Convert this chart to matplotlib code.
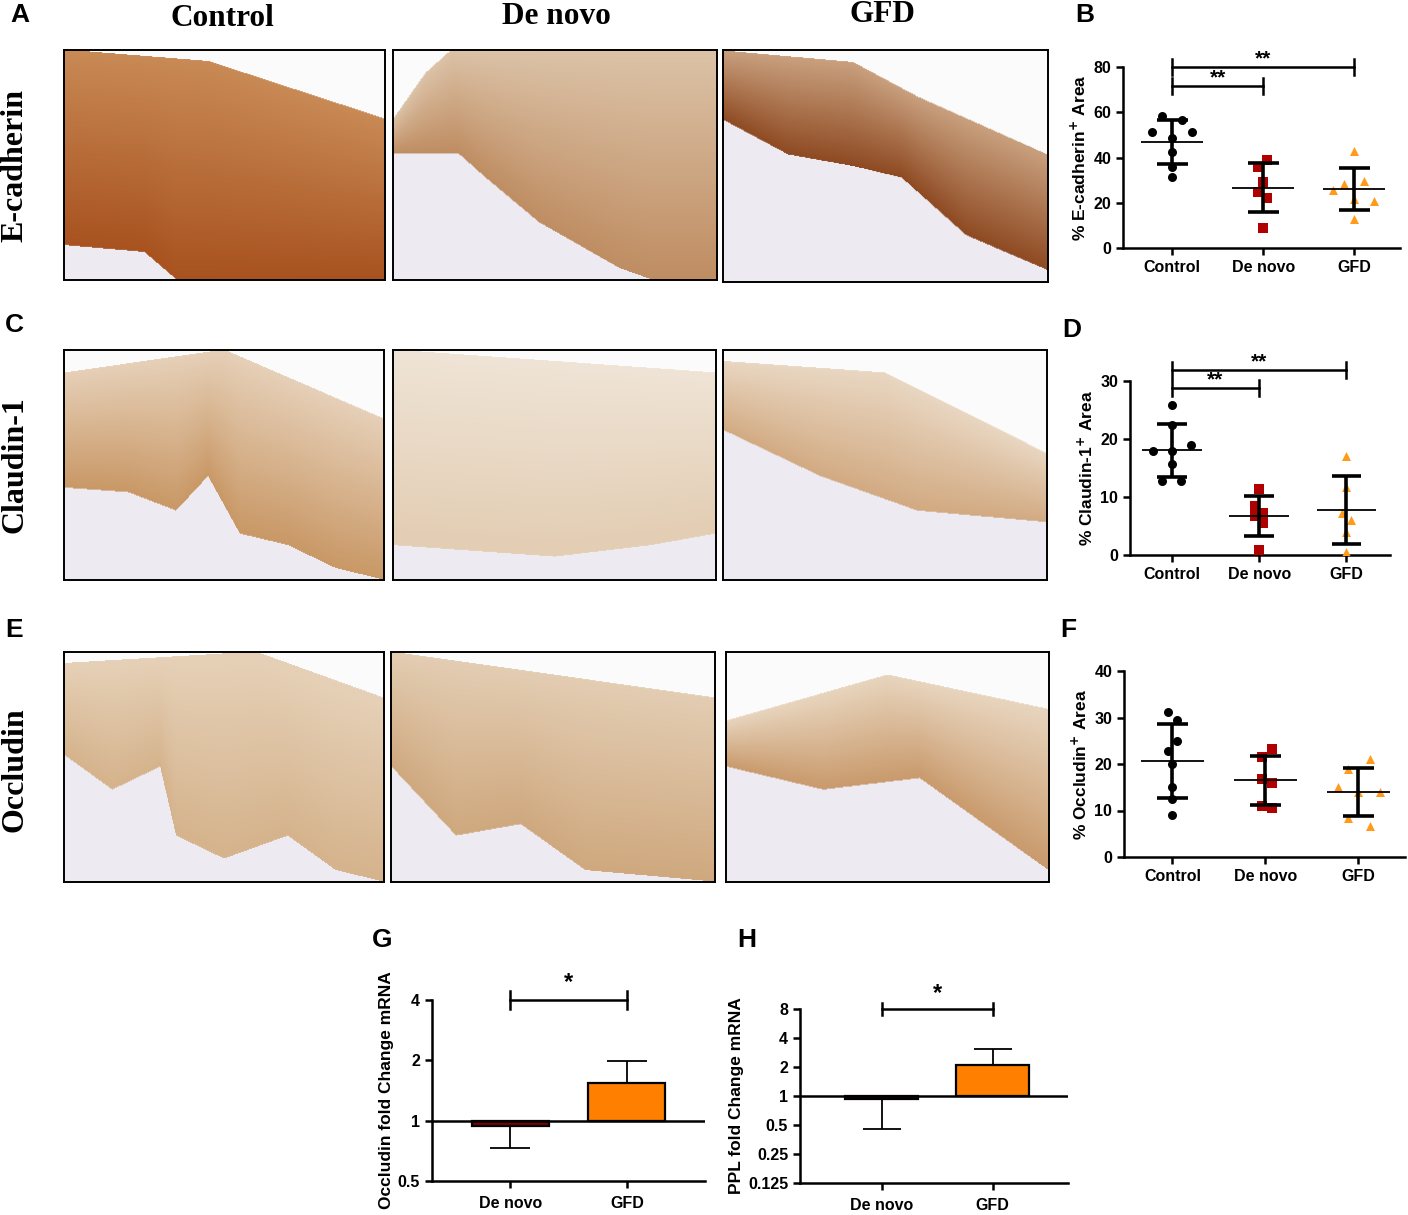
import numpy as np
from matplotlib import pyplot as plt
from matplotlib.ticker import FixedLocator, NullLocator

# group names
groups = ['Control', 'De novo', 'GFD']
group_colors = ['black', '#b00000', '#ff9a1a']
group_markers = ['o', 's', '^']

# panel B: % E-cadherin+ area
ecad_control = [58.2, 56.6, 51.1, 51.1, 48.6, 42.4, 35.9, 31.2]
ecad_denovo = [39.0, 35.9, 29.3, 24.6, 22.0, 8.7]
ecad_gfd = [42.7, 28.4, 29.8, 25.5, 21.8, 20.9, 12.7]

# panel D: % Claudin-1+ area
cldn_control = [25.9, 22.5, 18.0, 19.0, 18.0, 15.7, 12.7, 12.7]
cldn_denovo = [11.4, 8.5, 7.3, 6.8, 5.6, 0.9]
cldn_gfd = [17.1, 11.8, 7.2, 6.0, 4.0, 0.6]

# panel F: % Occludin+ area
ocln_control = [31.1, 29.4, 24.9, 22.7, 20.1, 15.1, 12.5, 9.1]
ocln_denovo = [23.3, 21.4, 16.7, 15.9, 10.9, 10.6]
ocln_gfd = [21.0, 19.0, 15.1, 14.0, 14.0, 8.4, 6.7]

# panels G, H: mRNA fold change (mean, error end)
mrna_groups = ['De novo', 'GFD']
ocln_fold = [0.944, 1.55]
ocln_fold_err = [0.727, 1.99]
ppl_fold = [0.923, 2.11]
ppl_fold_err = [0.45, 3.05]

FIG_W, FIG_H = 1408, 1215


def px_axes(fig, x0, y0, x1, y1):
    '''Add axes from pixel box (top-left origin).'''
    return fig.add_axes([x0 / FIG_W, 1 - y1 / FIG_H,
                         (x1 - x0) / FIG_W, (y1 - y0) / FIG_H])


def tissue_image(upper, lower, surface, basal, nx=320, ny=230):
    '''Rough stand-in for a stained section.'''
    xs = np.linspace(0, 1, nx)
    ys = np.linspace(0, 1, ny)[:, None]
    up = np.interp(xs, [p[0] for p in upper], [p[1] for p in upper])[None, :]
    lo = np.interp(xs, [p[0] for p in lower], [p[1] for p in lower])[None, :]
    img = np.ones((ny, nx, 3)) * 0.985
    stroma = np.array([0.93, 0.92, 0.95])
    below = (ys > lo)
    img[np.broadcast_to(below, (ny, nx))] = stroma
    t = np.clip((ys - up) / np.maximum(lo - up, 1e-3), 0, 1)
    inside = (ys >= up) & (ys <= lo)
    s = np.array(surface)
    b = np.array(basal)
    col = s[None, None, :] * (1 - t[..., None]) + b[None, None, :] * t[..., None]
    mask = np.broadcast_to(inside, (ny, nx))
    img[mask] = col[mask]
    return img


def hex2rgb(h):
    h = h.lstrip('#')
    return [int(h[i:i + 2], 16) / 255 for i in (0, 2, 4)]


def draw_section(ax, upper, lower, surface, basal):
    ax.imshow(tissue_image(upper, lower, hex2rgb(surface), hex2rgb(basal)),
              aspect='auto', extent=[0, 1, 1, 0], interpolation='bilinear')
    ax.set_xticks([])
    ax.set_yticks([])
    for s in ax.spines.values():
        s.set_linewidth(1.4)


def style_axes(ax):
    for side in ['top', 'right']:
        ax.spines[side].set_visible(False)
    for side in ['left', 'bottom']:
        ax.spines[side].set_linewidth(1.8)
    ax.tick_params(width=1.8, length=5, labelsize=11.5)
    for lab in ax.get_yticklabels():
        lab.set_fontweight('bold')


def bracket(ax, x0, x1, y, h, label):
    ax.plot([x0, x1], [y, y], color='black', lw=1.8, clip_on=False)
    ax.plot([x0, x0], [y - h, y + h], color='black', lw=1.8, clip_on=False)
    ax.plot([x1, x1], [y - h, y + h], color='black', lw=1.8, clip_on=False)
    ax.text((x0 + x1) / 2, y + h * 0.35, label, ha='center', va='baseline',
            fontsize=15, fontweight='bold', clip_on=False)


def scatter_panel(ax, data, offsets, ymax, step, ylabel, xlim):
    for i, (vals, offs) in enumerate(zip(data, offsets)):
        vals = np.array(vals)
        ax.scatter(i + np.array(offs), vals, s=42, marker=group_markers[i],
                   color=group_colors[i], zorder=3, linewidths=0)
        m = vals.mean()
        sd = vals.std(ddof=1)
        ax.hlines(m, i - 0.34, i + 0.34, color='black', lw=1.3, zorder=4)
        ax.vlines(i, m - sd, m + sd, color='black', lw=2.6, zorder=4)
        ax.hlines([m - sd, m + sd], i - 0.17, i + 0.17, color='black', lw=2.6, zorder=4)
    ax.set_xlim(*xlim)
    ax.set_ylim(0, ymax)
    ax.set_yticks(np.arange(0, ymax + 1, step))
    ax.set_xticks(range(3))
    ax.set_xticklabels(groups, fontsize=12.5, fontweight='bold')
    ax.set_ylabel(ylabel, fontsize=12.5, fontweight='bold', labelpad=3)
    style_axes(ax)


def bar_panel(ax, means, errs, colors, ylim, ticks, ticklabels, ylabel, xlim):
    ax.set_yscale('log', base=2)
    x = np.arange(len(means))
    heights = [m - 1 for m in means]
    ax.bar(x, heights, bottom=1, width=0.66, color=colors,
           edgecolor='black', linewidth=1.6, zorder=3)
    for xi, m, e in zip(x, means, errs):
        ax.vlines(xi, min(m, e), max(m, e), color='black', lw=1.3, zorder=2)
        ax.hlines(e, xi - 0.17, xi + 0.17, color='black', lw=1.3, zorder=2)
    ax.axhline(1, color='black', lw=1.8, zorder=4)
    ax.set_xlim(*xlim)
    ax.set_ylim(*ylim)
    ax.yaxis.set_major_locator(FixedLocator(ticks))
    ax.yaxis.set_minor_locator(NullLocator())
    ax.set_yticklabels(ticklabels)
    ax.set_xticks(x)
    ax.set_xticklabels(mrna_groups, fontsize=12, fontweight='bold')
    ax.set_ylabel(ylabel, fontsize=12.5, fontweight='bold', labelpad=3)
    style_axes(ax)
    ax.tick_params(axis='x', pad=6)


def main():
    fig = plt.figure(figsize=(FIG_W / 100, FIG_H / 100), dpi=100)
    plt.rcParams['font.family'] = ['Liberation Sans', 'DejaVu Sans']

    serif = ['Liberation Serif', 'DejaVu Serif']

    # column titles and row labels
    for x, y, t in [(222, 18, 'Control'), (556, 16, 'De novo'), (882, 15, 'GFD')]:
        fig.text(x / FIG_W, 1 - y / FIG_H, t, ha='center', va='center',
                 fontsize=22.5, fontweight='bold', family=serif)
    for y, t in [(165, 'E-cadherin'), (465, 'Claudin-1'), (770, 'Occludin')]:
        fig.text(15 / FIG_W, 1 - y / FIG_H, t, ha='center', va='center', rotation=90,
                 fontsize=23, fontweight='bold', family=serif)

    # stained sections
    sections = [
        [(64, 50, 385, 280), [(0, 0.0), (0.45, 0.05), (1, 0.3)],
         [(0, 0.85), (0.25, 0.88), (0.35, 1.0), (1, 1.0)], '#c98a55', '#a8521f'],
        [(393, 50, 717, 280), [(0, 0.3), (0.1, 0.1), (0.18, 0.0), (1, 0.0)],
         [(0, 0.45), (0.2, 0.45), (0.28, 0.55), (0.45, 0.75), (0.7, 0.95), (0.8, 1.0), (1, 1.0)],
         '#dcc3a8', '#bf8d62'],
        [(723, 50, 1048, 282), [(0, 0.0), (0.4, 0.05), (0.6, 0.2), (1, 0.45)],
         [(0, 0.3), (0.2, 0.45), (0.4, 0.5), (0.55, 0.55), (0.75, 0.8), (1, 0.95)],
         '#c9a07e', '#8e4a22'],
        [(64, 350, 384, 580), [(0, 0.1), (0.5, 0.0), (1, 0.3)],
         [(0, 0.6), (0.2, 0.62), (0.35, 0.7), (0.45, 0.55), (0.55, 0.8), (0.7, 0.85), (0.85, 0.95), (1, 1)],
         '#e6d0b8', '#c99866'],
        [(393, 350, 716, 580), [(0, 0.0), (1, 0.1)],
         [(0, 0.85), (0.5, 0.9), (0.8, 0.85), (1, 0.8)], '#efe4d6', '#e3cdb3'],
        [(723, 350, 1047, 580), [(0, 0.05), (0.5, 0.1), (1, 0.45)],
         [(0, 0.35), (0.3, 0.55), (0.6, 0.7), (1, 0.75)], '#e9d7c2', '#d2aa82'],
        [(64, 652, 384, 882), [(0, 0.05), (0.6, 0.0), (1, 0.2)],
         [(0, 0.45), (0.15, 0.6), (0.3, 0.5), (0.35, 0.8), (0.5, 0.9), (0.7, 0.8), (0.85, 0.95), (1, 1)],
         '#e6d1b8', '#d5b38c'],
        [(391, 652, 715, 882), [(0, 0.0), (1, 0.2)],
         [(0, 0.5), (0.2, 0.8), (0.4, 0.75), (0.6, 0.95), (1, 1)], '#e3cdb3', '#cfa87e'],
        [(726, 652, 1049, 882), [(0, 0.3), (0.5, 0.1), (1, 0.25)],
         [(0, 0.5), (0.3, 0.6), (0.6, 0.55), (1, 0.95)], '#e8d5be', '#c99a6c'],
    ]
    for box, up, lo, c1, c2 in sections:
        draw_section(px_axes(fig, *box), up, lo, c1, c2)

    # B
    axB = px_axes(fig, 1123, 67, 1400, 248)
    scatter_panel(axB, [ecad_control, ecad_denovo, ecad_gfd],
                  [[-0.11, 0.11, -0.22, 0.22, 0, 0, 0, 0],
                   [0.04, -0.055, 0, -0.055, 0.04, 0],
                   [0, -0.11, 0.11, -0.23, 0, 0.22, 0]],
                  80, 20, r'% E-cadherin$^\mathbf{+}$ Area', (-0.54, 2.5))
    bracket(axB, 0, 2, 80, 3.6, '**')
    bracket(axB, 0, 1, 71.5, 3.6, '**')

    # D
    axD = px_axes(fig, 1130, 381, 1390, 555)
    scatter_panel(axD, [cldn_control, cldn_denovo, cldn_gfd],
                  [[0, 0, -0.22, 0.22, 0, 0, -0.11, 0.11],
                   [0, -0.046, 0.05, -0.046, 0.05, 0],
                   [0, 0, -0.05, 0.05, 0, 0]],
                  30, 10, r'% Claudin-1$^\mathbf{+}$ Area', (-0.48, 2.5))
    bracket(axD, 0, 2, 31.9, 1.3, '**')
    bracket(axD, 0, 1, 28.8, 1.3, '**')

    # F
    axF = px_axes(fig, 1124, 671, 1405, 857)
    scatter_panel(axF, [ocln_control, ocln_denovo, ocln_gfd],
                  [[-0.05, 0.05, 0.05, -0.05, 0, 0, 0, 0],
                   [0.07, -0.035, -0.035, 0.07, -0.035, 0.07],
                   [0.12, -0.11, -0.22, 0, 0.23, -0.11, 0.12]],
                  40, 10, r'% Occludin$^\mathbf{+}$ Area', (-0.52, 2.5))

    # G
    axG = px_axes(fig, 432, 1000, 705, 1181)
    bar_panel(axG, ocln_fold, ocln_fold_err, ['#7a0000', '#ff8000'],
              (0.5, 4), [0.5, 1, 2, 4], ['0.5', '1', '2', '4'],
              'Occludin fold Change mRNA', (-0.67, 1.67))
    axG.plot([0, 1], [4, 4], color='black', lw=1.8, clip_on=False)
    axG.plot([0, 0], [3.6, 4.45], color='black', lw=1.8, clip_on=False)
    axG.plot([1, 1], [3.6, 4.45], color='black', lw=1.8, clip_on=False)
    axG.text(0.5, 4.3, '*', ha='center', va='bottom', fontsize=17, fontweight='bold')

    # H
    axH = px_axes(fig, 800, 1009, 1068, 1183)
    bar_panel(axH, ppl_fold, ppl_fold_err, ['#3a0000', '#ff8000'],
              (0.125, 8), [0.125, 0.25, 0.5, 1, 2, 4, 8],
              ['0.125', '0.25', '0.5', '1', '2', '4', '8'],
              'PPL fold Change mRNA', (-0.74, 1.68))
    axH.plot([0, 1], [8, 8], color='black', lw=1.8, clip_on=False)
    axH.plot([0, 0], [6.9, 9.3], color='black', lw=1.8, clip_on=False)
    axH.plot([1, 1], [6.9, 9.3], color='black', lw=1.8, clip_on=False)
    axH.text(0.5, 8.7, '*', ha='center', va='bottom', fontsize=17, fontweight='bold')

    # panel letters
    for x, y, t in [(10, 3, 'A'), (1075, 3, 'B'), (5, 313, 'C'), (1062, 318, 'D'),
                    (5, 618, 'E'), (1060, 618, 'F'), (372, 928, 'G'), (737, 928, 'H')]:
        fig.text(x / FIG_W, 1 - y / FIG_H, t, ha='left', va='top',
                 fontsize=19, fontweight='bold')

    fig.savefig('out.png', dpi=100)


if __name__ == '__main__':
    main()
